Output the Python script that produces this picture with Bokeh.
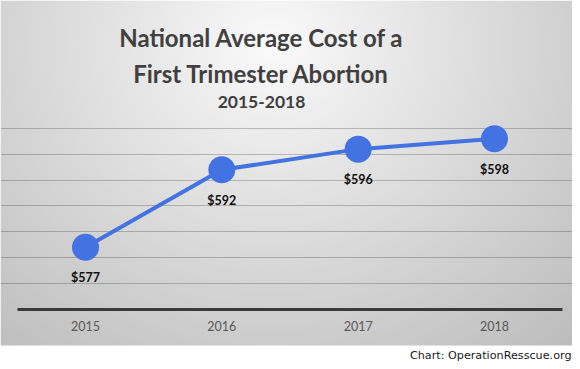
import numpy as np
from bokeh.plotting import figure
from bokeh.models import Range1d, FixedTicker, Label, ColumnDataSource
from bokeh.core.properties import value
from bokeh.embed import file_html
from bokeh.resources import INLINE

# ---- data ----
years = [2015, 2016, 2017, 2018]
costs = [577, 592, 596, 598]
cost_labels = ["$577", "$592", "$596", "$598"]
grid_values = [570, 575, 580, 585, 590, 595, 600]
axis_base = 565
title_lines = ["National Average Cost of a", "First Trimester Abortion"]
subtitle = "2015-2018"
credit = "Chart: OperationResscue.org"

# ---- layout (pixels) ----
FRAME_W, FRAME_H = 572, 361
BG_H = 345                 # height of the grey panel
px_per_year = 136.33
first_year_px = 85
px_per_dollar = 5.163
base_px = 308.7            # pixel row (from top) of the axis base

x0 = years[0] - first_year_px / px_per_year
x1 = x0 + FRAME_W / px_per_year
y1 = axis_base + base_px / px_per_dollar
y0 = y1 - FRAME_H / px_per_dollar
ybg = y1 - BG_H / px_per_dollar

p = figure(width=FRAME_W, height=FRAME_H, output_backend="svg", toolbar_location=None,
           x_range=Range1d(x0, x1), y_range=Range1d(y0, y1),
           min_border_left=0, min_border_right=0, min_border_top=0, min_border_bottom=0)
p.outline_line_color = None
p.border_fill_color = "white"
p.background_fill_color = "white"

# radial grey background
H, W = BG_H, FRAME_W
yy, xx = np.mgrid[0:H, 0:W]
cx, cy = 272, 45
d = np.sqrt((xx - cx) ** 2 + ((yy - cy) / 0.9) ** 2)
v = np.clip(251 - 56 * (d / 400.0) ** 0.95, 0, 255).astype(np.uint8)
img = np.empty((H, W), dtype=np.uint32)
view = img.view(dtype=np.uint8).reshape((H, W, 4))
view[..., 0] = v
view[..., 1] = v
view[..., 2] = v
view[..., 3] = 255
img = img[::-1].copy()
p.image_rgba(image=[img], x=x0, y=ybg, dw=x1 - x0, dh=y1 - ybg, level="image")

# grid
p.xgrid.visible = False
p.yaxis.visible = False
p.ygrid.ticker = FixedTicker(ticks=grid_values)
p.ygrid.grid_line_color = "#000000"
p.ygrid.grid_line_alpha = 0.22
p.ygrid.grid_line_width = 1
p.ygrid.bounds = (years[0] - 0.5, years[-1] + 0.5)

# x axis at base
xa = p.xaxis[0]
xa.fixed_location = axis_base
xa.ticker = FixedTicker(ticks=years)
xa.bounds = (years[0] - 0.5, years[-1] + 0.5)
xa.axis_line_color = "#3a3a3a"
xa.axis_line_width = 3
xa.major_tick_line_color = None
xa.minor_tick_line_color = None
xa.major_label_text_font = "Lato"
xa.major_label_text_font_size = "12.5px"
xa.major_label_text_color = "#595959"
xa.major_label_standoff = 6

src = ColumnDataSource(dict(x=years, y=costs, label=cost_labels))
blue = "#4372E3"
p.line("x", "y", source=src, line_color=blue, line_width=4)
p.scatter("x", "y", source=src, size=27, fill_color=blue, line_color=None)
p.text("x", "y", text="label", source=src, y_offset=30.5,
       text_font=value("Lato"), text_font_style="bold", text_font_size="12.5px",
       text_color="#111111", text_align="center", text_baseline="middle")

# titles
tx = 261
for i, line in enumerate(title_lines):
    p.add_layout(Label(x=tx, y=FRAME_H - (37.3 + 35.4 * i), x_units="screen", y_units="screen",
                       text=line, text_font="Lato", text_font_style="bold",
                       text_font_size="24px", text_color="#404040",
                       text_align="center", text_baseline="alphabetic"))
p.add_layout(Label(x=tx, y=FRAME_H - 101, x_units="screen", y_units="screen",
                   text=subtitle, text_font="Lato", text_font_style="bold",
                   text_font_size="17.5px", text_color="#404040",
                   text_align="center", text_baseline="alphabetic"))
p.add_layout(Label(x=571, y=FRAME_H - 355, x_units="screen", y_units="screen",
                   text=credit, text_font="DejaVu Sans", text_font_size="11.2px",
                   text_color="#1a1a1a", text_align="right", text_baseline="middle"))

open("out.html", "w").write(file_html(p, INLINE))
